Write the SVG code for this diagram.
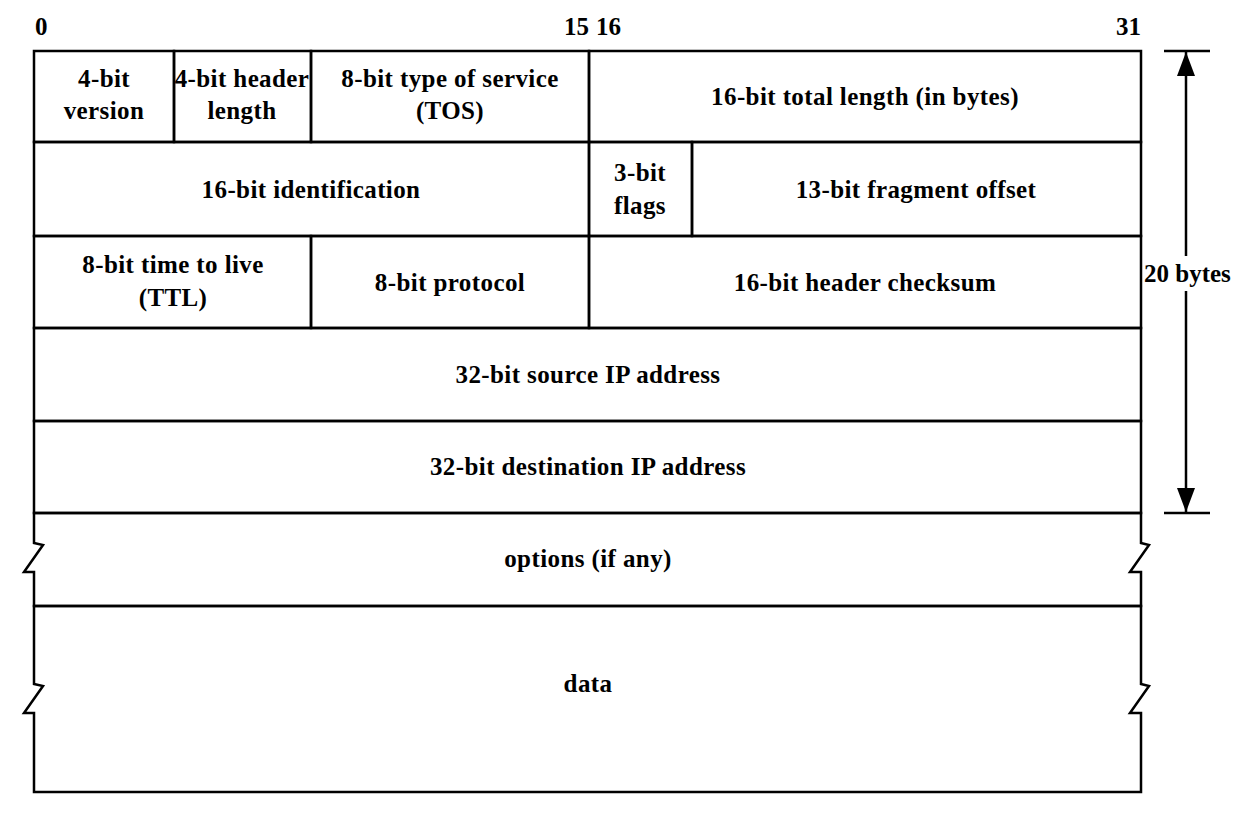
<svg xmlns="http://www.w3.org/2000/svg" width="1252" height="828" viewBox="0 0 1252 828">
<style>
  .ln { fill: none; stroke: #000; stroke-width: 2.5; stroke-linejoin: miter; }
  .t { font-family: "Liberation Serif", "Times New Roman", serif; font-weight: bold; font-size: 25px; letter-spacing: 0.4px; fill: #000; text-anchor: middle; dominant-baseline: central; }
  .n { font-family: "Liberation Serif", "Times New Roman", serif; font-weight: bold; font-size: 25px; fill: #000; }
</style>
<defs>
  <marker id="ahb" viewBox="0 0 24 20" refX="24" refY="10" markerWidth="24" markerHeight="20" markerUnits="userSpaceOnUse" orient="auto">
    <path d="M0,1 L24,10 L0,19 Z" fill="#000"/>
  </marker>
</defs>
<rect width="1252" height="828" fill="#fff"/>

<g id="bit-labels">
  <text class="n" x="35" y="35">0</text>
  <text class="n" x="589" y="35" text-anchor="end">15</text>
  <text class="n" x="596" y="35">16</text>
  <text class="n" x="1141" y="35" text-anchor="end">31</text>
</g>

<g id="version">
  <rect class="ln" x="34" y="51" width="140" height="91"/>
  <text class="t" x="104" y="78">4-bit</text>
  <text class="t" x="104" y="110">version</text>
</g>
<g id="header-length">
  <rect class="ln" x="174" y="51" width="137" height="91"/>
  <text class="t" x="242" y="78">4-bit header</text>
  <text class="t" x="242" y="110">length</text>
</g>
<g id="tos">
  <rect class="ln" x="311" y="51" width="278" height="91"/>
  <text class="t" x="450" y="78">8-bit type of service</text>
  <text class="t" x="450" y="110">(TOS)</text>
</g>
<g id="total-length">
  <rect class="ln" x="589" y="51" width="552" height="91"/>
  <text class="t" x="865" y="96">16-bit total length (in bytes)</text>
</g>

<g id="identification">
  <rect class="ln" x="34" y="142" width="555" height="94"/>
  <text class="t" x="311" y="189">16-bit identification</text>
</g>
<g id="flags">
  <rect class="ln" x="589" y="142" width="103" height="94"/>
  <text class="t" x="640" y="172">3-bit</text>
  <text class="t" x="640" y="205">flags</text>
</g>
<g id="fragment-offset">
  <rect class="ln" x="692" y="142" width="449" height="94"/>
  <text class="t" x="916" y="189">13-bit fragment offset</text>
</g>

<g id="ttl">
  <rect class="ln" x="34" y="236" width="277" height="92"/>
  <text class="t" x="173" y="264">8-bit time to live</text>
  <text class="t" x="173" y="297">(TTL)</text>
</g>
<g id="protocol">
  <rect class="ln" x="311" y="236" width="278" height="92"/>
  <text class="t" x="450" y="282">8-bit protocol</text>
</g>
<g id="header-checksum">
  <rect class="ln" x="589" y="236" width="552" height="92"/>
  <text class="t" x="865" y="282">16-bit header checksum</text>
</g>

<g id="source-ip">
  <rect class="ln" x="34" y="328" width="1107" height="93"/>
  <text class="t" x="588" y="374">32-bit source IP address</text>
</g>
<g id="destination-ip">
  <rect class="ln" x="34" y="421" width="1107" height="92"/>
  <text class="t" x="588" y="466">32-bit destination IP address</text>
</g>

<g id="options">
  <path class="ln" d="M34,513 H1141 V543 L1149,545 L1130,572 H1141 V606 H34 V572 H24 L43,545 L34,543 Z"/>
  <text class="t" x="588" y="558">options (if any)</text>
</g>
<g id="data">
  <path class="ln" d="M34,606 H1141 V684 L1149,686 L1130,713 H1141 V792 H34 V713 H24 L43,686 L34,684 Z"/>
  <text class="t" x="588" y="683">data</text>
</g>

<g id="connectors">
  <line class="ln" x1="1164" y1="51" x2="1210" y2="51"/>
  <line class="ln" x1="1164" y1="513" x2="1210" y2="513"/>
  <line class="ln" x1="1186" y1="256" x2="1186" y2="52" marker-end="url(#ahb)"/>
  <line class="ln" x1="1186" y1="291" x2="1186" y2="512" marker-end="url(#ahb)"/>
  <text class="n" x="1144" y="282">20 bytes</text>
</g>
</svg>
